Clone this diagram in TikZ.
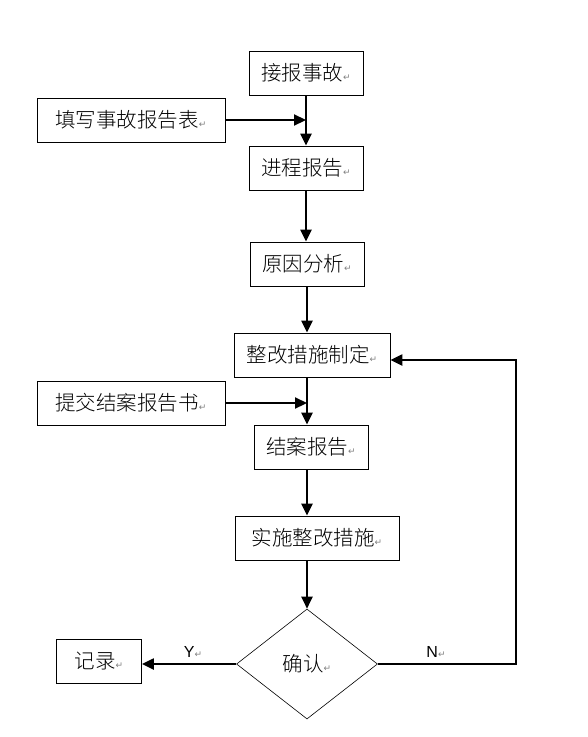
\documentclass[tikz,border=0pt]{standalone}
\usepackage{fontspec}
\newfontfamily\cjk{Noto Sans CJK SC Light}
\newfontfamily\lat{Liberation Sans}
\newfontfamily\sym{DejaVu Sans}
\usetikzlibrary{arrows.meta,shapes.geometric}
\newcommand{\parmk}{{\sym\fontsize{9}{9}\selectfont\textcolor{gray}{↵}}}
\begin{document}
\begin{tikzpicture}[x=1pt,y=-1pt,
  box/.style={draw,line width=0.8pt,rectangle,minimum height=44pt,inner sep=0pt,font=\cjk\fontsize{20.5}{20.5}\selectfont},
  dia/.style={draw,line width=0.6pt,diamond,minimum width=141pt,minimum height=110pt,inner sep=0pt,aspect=1.28,font=\cjk\fontsize{20.5}{20.5}\selectfont},
  conn/.style={line width=2.2pt},
  arr/.style={conn,-{Triangle[length=12pt,width=11pt]}},
  lab/.style={font=\lat\fontsize{16}{16}\selectfont}]
\useasboundingbox (0,0) rectangle (588,737);
\node[box,minimum width=114pt] (jb) at (306,73) {接报事故\parmk};
\node[box,minimum width=188pt] (tx) at (131,120) {填写事故报告表\parmk};
\node[box,minimum width=114pt] (jc) at (306,168) {进程报告\parmk};
\node[box,minimum width=114pt] (yy) at (307,264) {原因分析\parmk};
\node[box,minimum width=156pt] (zg) at (312,355) {整改措施制定\parmk};
\node[box,minimum width=188pt] (tj) at (131,403) {提交结案报告书\parmk};
\node[box,minimum width=114pt] (ja) at (311,447) {结案报告\parmk};
\node[box,minimum width=164pt] (ss) at (317,538) {实施整改措施\parmk};
\node[dia] (qr) at (307,664) {确认\parmk};
\node[box,minimum width=85pt] (jl) at (99,661) {记录\parmk};
\node[lab] (ly) at (193,652) {Y\parmk};
\node[lab] (ln) at (436,652) {N\parmk};
\coordinate (c1) at (306,120);
\coordinate (c2) at (307,403);
\coordinate (cr) at (516,664);
\draw[arr] (jb.south) -- (jc.north);
\draw[arr] (tx.east) -- (c1);
\draw[arr] (jc.south) -- (jc.south |- yy.north);
\draw[arr] (yy.south) -- (yy.south |- zg.north);
\draw[arr] (yy.south |- zg.south) -- (yy.south |- ja.north);
\draw[arr] (tj.east) -- (c2);
\draw[arr] (yy.south |- ja.south) -- (yy.south |- ss.north);
\draw[arr] (yy.south |- ss.south) -- (qr.north);
\draw[arr] (qr.west) -- (jl.east |- qr.west);
\draw[arr] (qr.east) -- (cr) |- ([yshift=-5pt]zg.east);
\end{tikzpicture}
\end{document}
